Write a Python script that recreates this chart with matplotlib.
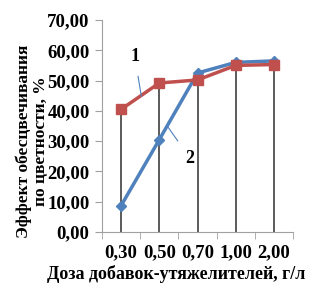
import matplotlib.pyplot as plt
import numpy as np

# Данные
doses = ['0,30', '0,50', '0,70', '1,00', '2,00']
series1 = [40.5, 49.2, 50.2, 55.0, 55.3]
series2 = [8.7, 30.5, 52.5, 56.0, 56.5]
yticks = [0, 10, 20, 30, 40, 50, 60, 70]

plt.rcParams['font.family'] = ['Liberation Serif', 'DejaVu Serif']
plt.rcParams['font.weight'] = 'bold'
plt.rcParams['axes.labelweight'] = 'bold'

fig = plt.figure(figsize=(3.12, 2.88), dpi=100)
ax = fig.add_axes([102 / 312, 1 - 232 / 288, 191 / 312, 212 / 288])

x = np.arange(len(doses))
top = np.maximum(series1, series2)
ax.vlines(x, 0, top, color='#404040', lw=1.2, zorder=1)

ax.plot(x, series2, color='#4F81BD', lw=2.5, marker='D', ms=5, zorder=2)
ax.plot(x, series1, color='#C0504D', lw=2.5, marker='s', ms=6.5, zorder=3)

ax.set_xlim(-0.5, len(doses) - 0.5)
ax.set_ylim(0, 70)
ax.set_yticks(yticks)
ax.set_yticklabels([f'{v:.2f}'.replace('.', ',') for v in yticks])
ax.set_xticks(x)
ax.set_xticklabels(doses)
ax.set_xticks(np.arange(len(doses) + 1) - 0.5, minor=True)
ax.tick_params(axis='x', which='major', length=0, pad=9)
ax.tick_params(axis='x', which='minor', length=5, color='#a0a0a0')
ax.tick_params(axis='y', length=5, color='#a0a0a0', pad=4)
ax.tick_params(labelsize=13.5)

for s in ['top', 'right']:
    ax.spines[s].set_visible(False)
for s in ['left', 'bottom']:
    ax.spines[s].set_color('#a0a0a0')

# подписи кривых
ax.annotate('1', xy=(0.53, 44.8), xytext=(0.36, 57.9), fontsize=13,
            ha='center', va='center',
            arrowprops=dict(arrowstyle='-', color='#4F81BD', lw=0.8,
                            shrinkA=6, shrinkB=0))
ax.annotate('2', xy=(1.23, 34.6), xytext=(1.80, 24.4), fontsize=13,
            ha='center', va='center',
            arrowprops=dict(arrowstyle='-', color='#4F81BD', lw=0.8,
                            shrinkA=6, shrinkB=0))

ax.set_xlabel('Доза добавок-утяжелителей, г/л', fontsize=13)
ax.xaxis.set_label_coords(0.39, -0.155)
ax.set_ylabel('Эффект обесцвечивания\nпо цветности, %', fontsize=12.5,
              linespacing=1.1)
ax.yaxis.set_label_coords(-0.275, 0.43)

fig.savefig('out.png', dpi=100)
